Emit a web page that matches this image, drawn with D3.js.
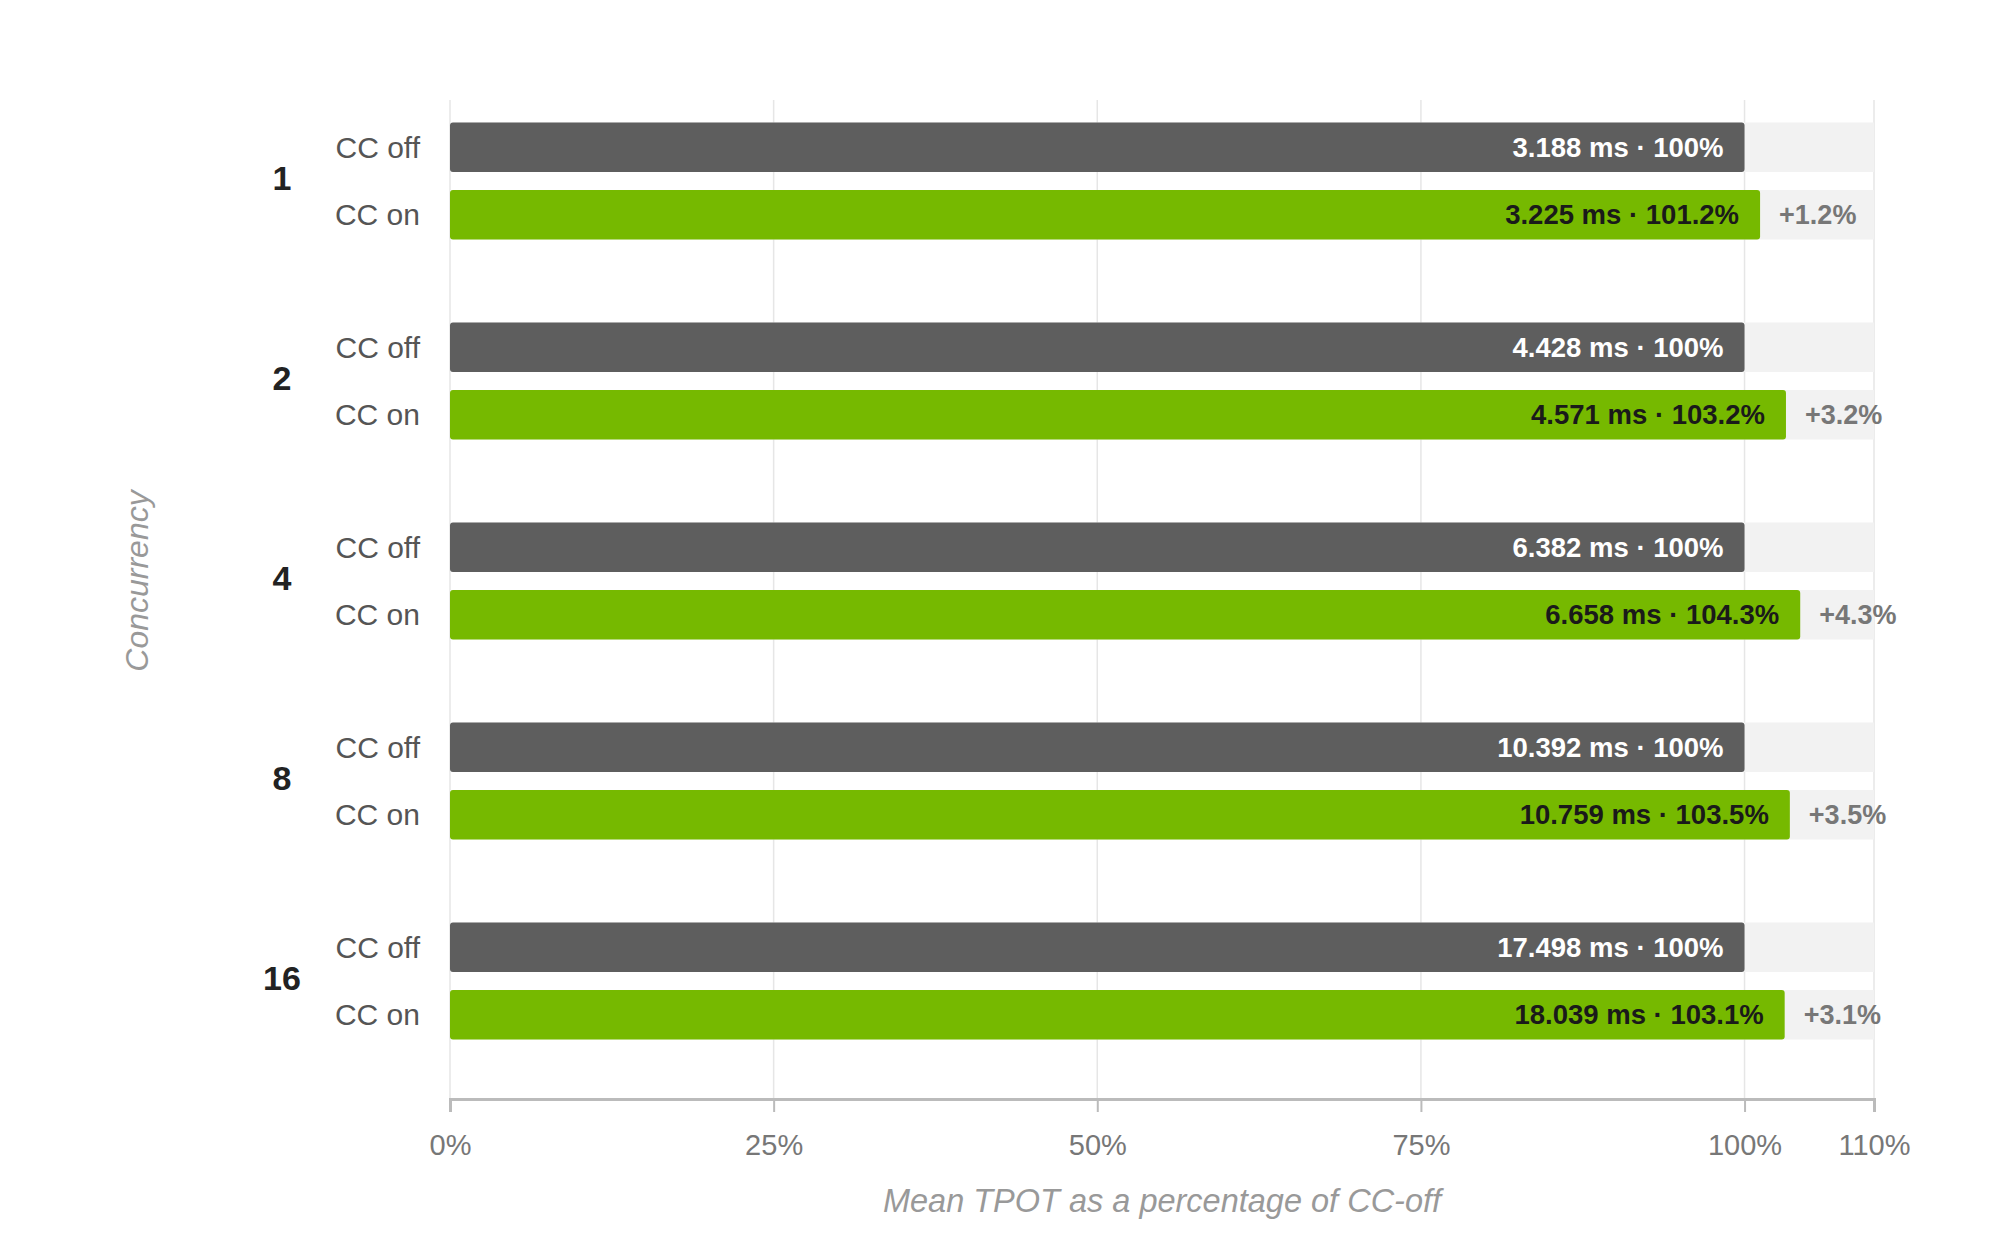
<!DOCTYPE html>
<html><head><meta charset="utf-8">
<script src="https://cdn.jsdelivr.net/npm/d3@7"></script>
<style>
html,body{margin:0;padding:0;background:#fff;}
svg{display:block;font-family:"Liberation Sans",Arial,Helvetica,sans-serif;}
</style></head>
<body>
<svg id="chart" width="1999" height="1250"></svg>
<script>
const groups = ["1", "2", "4", "8", "16"];
const seriesNames = ["CC off", "CC on"];
const offMs = [3.188, 4.428, 6.382, 10.392, 17.498];
const onMs = [3.225, 4.571, 6.658, 10.759, 18.039];
const offPct = [100, 100, 100, 100, 100];
const onPct = [101.2, 103.2, 104.3, 103.5, 103.1];
const tickValues = [0, 25, 50, 75, 100, 110];

const svg = d3.select("#chart");
const x = d3.scaleLinear().domain([0, 110]).range([450, 1874]);
const yG = d3.scaleBand().domain(groups).range([81, 1081]).paddingInner(0).paddingOuter(0);
const yS = d3.scaleBand().domain(seriesNames).range([41.5, 158.5]).paddingInner(0.2667).paddingOuter(0);
const gridTop = 100, axisY = 1099;

// gridlines
svg.append("g").selectAll("line").data(tickValues).join("line")
  .attr("x1", d => x(d)).attr("x2", d => x(d))
  .attr("y1", gridTop).attr("y2", axisY)
  .attr("stroke", "#e6e6e6").attr("stroke-width", 1.5);

const rows = [];
groups.forEach((g, i) => {
  rows.push({g, s: "CC off", ms: offMs[i], pct: offPct[i]});
  rows.push({g, s: "CC on", ms: onMs[i], pct: onPct[i]});
});

const bw = yS.bandwidth();
const rowY = d => yG(d.g) + yS(d.s);

// tracks
svg.append("g").selectAll("rect").data(rows).join("rect")
  .attr("x", x(0)).attr("width", x(110) - x(0))
  .attr("y", rowY).attr("height", bw)
  .attr("fill", "#f2f2f2");

// bars
svg.append("g").selectAll("rect").data(rows).join("rect")
  .attr("x", x(0)).attr("width", d => x(d.pct) - x(0))
  .attr("y", rowY).attr("height", bw)
  .attr("rx", 3)
  .attr("fill", d => d.s === "CC off" ? "#5e5e5e" : "#76b900");

// value labels inside bars
svg.append("g").selectAll("text").data(rows).join("text")
  .attr("x", d => x(d.pct) - 21)
  .attr("y", d => rowY(d) + bw / 2)
  .attr("dy", "0.35em")
  .attr("text-anchor", "end")
  .attr("font-size", 27.5).attr("font-weight", "bold")
  .attr("fill", d => d.s === "CC off" ? "#ffffff" : "#1a1a1a")
  .text(d => d.ms.toFixed(3) + " ms · " + (d.pct === 100 ? "100" : d.pct.toFixed(1)) + "%");

// delta labels
svg.append("g").selectAll("text").data(rows.filter(d => d.s === "CC on")).join("text")
  .attr("x", d => x(d.pct) + 19)
  .attr("y", d => rowY(d) + bw / 2)
  .attr("dy", "0.35em")
  .attr("font-size", 27).attr("font-weight", "bold")
  .attr("fill", "#777777")
  .text(d => "+" + (d.pct - 100).toFixed(1) + "%");

// series labels
svg.append("g").selectAll("text").data(rows).join("text")
  .attr("x", 420)
  .attr("y", d => rowY(d) + bw / 2)
  .attr("dy", "0.35em")
  .attr("text-anchor", "end")
  .attr("font-size", 30)
  .attr("fill", "#555555")
  .text(d => d.s);

// group labels
svg.append("g").selectAll("text").data(groups).join("text")
  .attr("x", 282)
  .attr("y", g => yG(g) + yG.bandwidth() / 2)
  .attr("dy", "0.26em")
  .attr("text-anchor", "middle")
  .attr("font-size", 34).attr("font-weight", "bold")
  .attr("fill", "#222222")
  .text(g => g);

// x axis
const xAxis = d3.axisBottom(x).tickValues(tickValues).tickFormat(d => d + "%").tickSize(13).tickPadding(22);
const ax = svg.append("g").attr("transform", `translate(0,${axisY})`).call(xAxis);
ax.select(".domain").attr("stroke", "#bbbbbb").attr("stroke-width", 3);
ax.selectAll(".tick line").attr("stroke", "#bbbbbb").attr("stroke-width", 2);
ax.selectAll(".tick text").attr("font-size", 29).attr("fill", "#777777")
  .attr("font-family", "'Liberation Sans',Arial,Helvetica,sans-serif");

// axis titles
svg.append("text")
  .attr("x", (x(0) + x(110)) / 2).attr("y", 1212)
  .attr("text-anchor", "middle")
  .attr("font-size", 32.5).attr("font-style", "italic")
  .attr("fill", "#999999")
  .text("Mean TPOT as a percentage of CC-off");

svg.append("text")
  .attr("transform", `translate(148,${yG("4") + yG.bandwidth() / 2}) rotate(-90)`)
  .attr("text-anchor", "middle")
  .attr("font-size", 32).attr("font-style", "italic")
  .attr("fill", "#999999")
  .text("Concurrency");
</script>
</body></html>
